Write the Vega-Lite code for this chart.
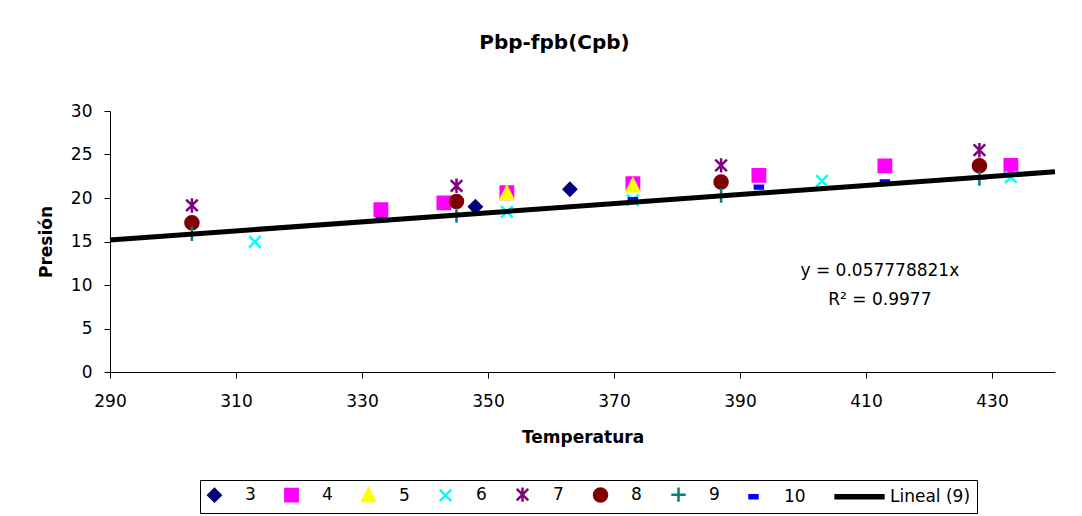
{
  "$schema": "https://vega.github.io/schema/vega-lite/v6.json",
  "width": 945,
  "height": 261,
  "autosize": {"type": "none"},
  "padding": {"left": 110, "top": 111, "right": 27, "bottom": 144},
  "background": "white",
  "title": {
    "text": "Pbp-fpb(Cpb)",
    "font": "DejaVu Sans",
    "fontSize": 20,
    "fontWeight": "bold",
    "color": "black",
    "anchor": "middle",
    "frame": "group",
    "dx": -28,
    "offset": 33,
    "baseline": "alphabetic"
  },
  "config": {
    "view": {"stroke": null},
    "font": "DejaVu Sans",
    "axis": {
      "grid": false,
      "domainColor": "black",
      "tickColor": "black",
      "labelColor": "black",
      "titleColor": "black",
      "labelFont": "DejaVu Sans",
      "titleFont": "DejaVu Sans",
      "labelFontSize": 17,
      "titleFontSize": 17,
      "titleFontWeight": "bold",
      "tickSize": 6,
      "labelOverlap": false,
      "labelFlush": false
    },
    "legend": {
      "orient": "none",
      "legendX": 90,
      "legendY": 369,
      "direction": "horizontal",
      "columns": 9,
      "columnPadding": 24,
      "labelOffset": 22,
      "symbolSize": 210,
      "symbolStrokeWidth": 2.5,
      "labelFont": "DejaVu Sans",
      "labelFontSize": 17,
      "labelColor": "black",
      "labelLimit": 300,
      "padding": 6,
      "strokeColor": "black"
    }
  },
  "datasets": {
    "puntos": [
      {"serie": "3", "Temperatura": 348, "Presion": 19.0},
      {"serie": "3", "Temperatura": 363, "Presion": 21.0},
      {"serie": "4", "Temperatura": 333, "Presion": 18.65},
      {"serie": "4", "Temperatura": 343, "Presion": 19.45},
      {"serie": "4", "Temperatura": 353, "Presion": 20.6},
      {"serie": "4", "Temperatura": 373, "Presion": 21.65},
      {"serie": "4", "Temperatura": 393, "Presion": 22.6},
      {"serie": "4", "Temperatura": 413, "Presion": 23.7},
      {"serie": "4", "Temperatura": 433, "Presion": 23.75},
      {"serie": "5", "Temperatura": 353, "Presion": 20.5},
      {"serie": "5", "Temperatura": 373, "Presion": 21.4},
      {"serie": "6", "Temperatura": 313, "Presion": 14.95},
      {"serie": "6", "Temperatura": 353, "Presion": 18.4},
      {"serie": "6", "Temperatura": 373, "Presion": 19.75},
      {"serie": "6", "Temperatura": 403, "Presion": 21.95},
      {"serie": "6", "Temperatura": 433, "Presion": 22.4},
      {"serie": "7", "Temperatura": 303, "Presion": 19.15},
      {"serie": "7", "Temperatura": 345, "Presion": 21.4},
      {"serie": "7", "Temperatura": 387, "Presion": 23.75},
      {"serie": "7", "Temperatura": 428, "Presion": 25.5},
      {"serie": "8", "Temperatura": 303, "Presion": 17.15},
      {"serie": "8", "Temperatura": 345, "Presion": 19.6},
      {"serie": "8", "Temperatura": 387, "Presion": 21.85},
      {"serie": "8", "Temperatura": 428, "Presion": 23.7},
      {"serie": "9", "Temperatura": 303, "Presion": 15.9},
      {"serie": "9", "Temperatura": 345, "Presion": 18.0},
      {"serie": "9", "Temperatura": 387, "Presion": 20.3},
      {"serie": "9", "Temperatura": 428, "Presion": 22.25},
      {"serie": "10", "Temperatura": 333, "Presion": 17.5},
      {"serie": "10", "Temperatura": 373, "Presion": 19.8},
      {"serie": "10", "Temperatura": 393, "Presion": 21.25},
      {"serie": "10", "Temperatura": 413, "Presion": 21.85}
    ],
    "tendencia": [
      {"Temperatura": 290, "Presion": 15.17},
      {"Temperatura": 440, "Presion": 23.01}
    ],
    "ecuacion": [
      {"Temperatura": 412.2, "Presion": 11.6, "texto": "y = 0.057778821x"},
      {"Temperatura": 412.2, "Presion": 8.26, "texto": "R² = 0.9977"}
    ]
  },
  "encoding": {
    "x": {
      "field": "Temperatura",
      "type": "quantitative",
      "scale": {"domain": [290, 440], "nice": false, "zero": false},
      "axis": {
        "title": "Temperatura",
        "values": [290, 310, 330, 350, 370, 390, 410, 430],
        "labelPadding": 15,
        "titlePadding": 20
      }
    },
    "y": {
      "field": "Presion",
      "type": "quantitative",
      "scale": {"domain": [0, 30], "nice": false},
      "axis": {
        "title": "Presión",
        "values": [0, 5, 10, 15, 20, 25, 30],
        "labelPadding": 12,
        "titlePadding": 15
      }
    }
  },
  "layer": [
    {
      "data": {"name": "puntos"},
      "mark": {"type": "point", "opacity": 1, "strokeWidth": 2.5, "size": 210},
      "encoding": {
        "shape": {
          "field": "serie",
          "type": "nominal",
          "title": null,
          "scale": {
            "domain": ["3", "4", "5", "6", "7", "8", "9", "10", "Lineal (9)"],
            "range": [
              "M-0.85,0L0,-0.85L0.85,0L0,0.85Z",
              "M-0.85,-0.85H0.85V0.85H-0.85Z",
              "M0,-0.95L0.85,0.75L-0.85,0.75Z",
              "M-0.8,-0.8L0.8,0.8M-0.8,0.8L0.8,-0.8",
              "M-0.8,-0.8L0.8,0.8M-0.8,0.8L0.8,-0.8M0,-1L0,1",
              "M-0.9,0A0.9,0.9,0,1,1,0.9,0A0.9,0.9,0,1,1,-0.9,0Z",
              "M-1,0H1M0,-1V1",
              "M-0.55,-0.2H0.55V0.2H-0.55Z",
              "M-3.3,-0.2H3.3V0.2H-3.3Z"
            ]
          },
          "legend": {"title": null, "encode": {"labels": {"update": {"dx": {"signal": "datum.value === 'Lineal (9)' ? -4 : 0"}}}}}
        },
        "fill": {
          "field": "serie",
          "type": "nominal",
          "title": null,
          "scale": {
            "domain": ["3", "4", "5", "6", "7", "8", "9", "10", "Lineal (9)"],
            "range": ["#000080", "#FF00FF", "#FFFF00", "transparent", "transparent", "#800000", "transparent", "#0000FF", "#000000"]
          },
          "legend": {"title": null, "encode": {"labels": {"update": {"dx": {"signal": "datum.value === 'Lineal (9)' ? -4 : 0"}}}}}
        },
        "stroke": {
          "field": "serie",
          "type": "nominal",
          "title": null,
          "scale": {
            "domain": ["3", "4", "5", "6", "7", "8", "9", "10", "Lineal (9)"],
            "range": ["#000080", "#FF00FF", "#FFFF00", "#00FFFF", "#800080", "#800000", "#008080", "#0000FF", "#000000"]
          },
          "legend": {"title": null, "encode": {"labels": {"update": {"dx": {"signal": "datum.value === 'Lineal (9)' ? -4 : 0"}}}}}
        }
      }
    },
    {
      "data": {"name": "tendencia"},
      "mark": {"type": "line", "color": "black", "strokeWidth": 5},
      "encoding": {}
    },
    {
      "data": {"name": "ecuacion"},
      "mark": {"type": "text", "font": "DejaVu Sans", "fontSize": 17, "align": "center", "baseline": "middle", "color": "black"},
      "encoding": {"text": {"field": "texto", "type": "nominal"}}
    }
  ]
}
